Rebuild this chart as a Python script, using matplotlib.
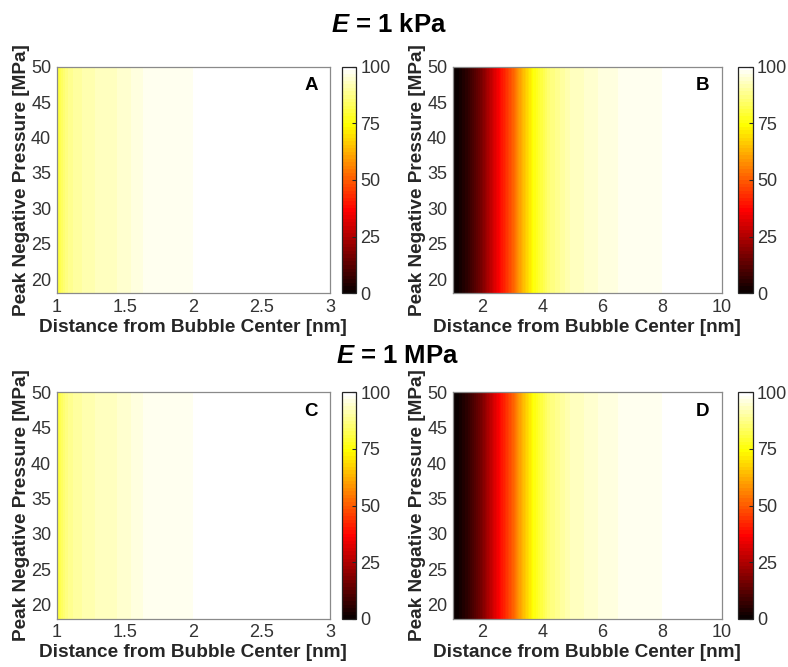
import numpy as np
import matplotlib
matplotlib.use("Agg")
import matplotlib.pyplot as plt
from matplotlib.colors import ListedColormap, Normalize
from matplotlib.cm import ScalarMappable

plt.rcParams['font.family'] = ['Liberation Sans', 'DejaVu Sans']
plt.rcParams['mathtext.fontset'] = 'custom'
plt.rcParams['mathtext.it'] = 'Liberation Sans:italic:bold'
plt.rcParams['mathtext.rm'] = 'Liberation Sans:bold'

# ---- data ----
pressures = [18, 20, 25, 30, 35, 40, 45, 50]  # MPa

dist_A = [1.0, 1.05, 1.1, 1.2, 1.3, 1.47, 1.63, 2.0, 2.5, 3.0]
pct_A = [78.0, 85.0, 88.5, 91.0, 92.5, 94.0, 96.9, 98.45, 99.5, 99.9]

dist_B = [1.0, 1.25, 1.5, 2.0, 2.58, 3.0, 3.3, 3.7, 4.25, 4.92, 5.42, 5.86, 6.53, 8.0, 10.0]
pct_B = [0.0, 2.0, 6.0, 18.0, 37.5, 50.0, 62.0, 75.0, 86.0, 92.2, 93.8, 95.35, 96.9, 98.45, 99.5]

dist_C = [1.0, 1.05, 1.1, 1.2, 1.3, 1.47, 1.63, 2.0, 2.5, 3.0]
pct_C = [78.0, 85.0, 88.5, 91.0, 92.5, 94.0, 96.9, 98.45, 99.5, 99.9]

dist_D = [1.0, 1.25, 1.5, 2.0, 2.58, 3.0, 3.3, 3.7, 4.25, 4.92, 5.42, 5.86, 6.53, 8.0, 10.0]
pct_D = [0.0, 2.0, 6.0, 18.0, 37.5, 50.0, 62.0, 75.0, 86.0, 92.2, 93.8, 95.35, 96.9, 98.45, 99.5]

panel_letters = ['A', 'B', 'C', 'D']
titles = ['$\\mathit{E}$ = 1 kPa', '$\\mathit{E}$ = 1 MPa']
cbar_ticks = [0, 25, 50, 75, 100]

# MATLAB-style hot(64) colormap
n = 64
n1 = int(3 * n / 8)
r = np.concatenate([np.arange(1, n1 + 1) / n1, np.ones(n - n1)])
g = np.concatenate([np.zeros(n1), np.arange(1, n1 + 1) / n1, np.ones(n - 2 * n1)])
b = np.concatenate([np.zeros(2 * n1), np.arange(1, n - 2 * n1 + 1) / (n - 2 * n1)])
hot64 = ListedColormap(np.column_stack([r, g, b]))
norm = Normalize(0, 100)
levels = np.linspace(0, 100, n + 1)

W, H = 788, 667
fig = plt.figure(figsize=(W / 100, H / 100), dpi=100)

def fx(px):
    return px / W

def fy(py):
    return 1 - py / H

TXT = '#262626'
rows = [(66.7, 293.3), (392.3, 618.7)]
cols = [(56.7, 330.0, 341.7, 356.0), (452.7, 721.7, 738.3, 752.7)]
data = [(dist_A, pct_A, (1, 3), [1, 1.5, 2, 2.5, 3], ['1', '1.5', '2', '2.5', '3']),
        (dist_B, pct_B, (1, 10), [2, 4, 6, 8, 10], ['2', '4', '6', '8', '10']),
        (dist_C, pct_C, (1, 3), [1, 1.5, 2, 2.5, 3], ['1', '1.5', '2', '2.5', '3']),
        (dist_D, pct_D, (1, 10), [2, 4, 6, 8, 10], ['2', '4', '6', '8', '10'])]

k = 0
for ri, (top, bot) in enumerate(rows):
    for ci, (l, rgt, cl, cr) in enumerate(cols):
        dist, pct, xl, xt, xtl = data[k]
        ax = fig.add_axes([fx(l), fy(bot), fx(rgt - l), (bot - top) / H])
        X, Y = np.meshgrid(dist, pressures)
        Z = np.tile(np.array(pct), (len(pressures), 1))
        ax.contourf(X, Y, Z, levels=levels, cmap=hot64, norm=norm, antialiased=False)
        ax.set_xlim(*xl)
        ax.set_ylim(18, 50)
        ax.set_xticks(xt)
        ax.set_xticklabels(xtl)
        ax.set_yticks([20, 25, 30, 35, 40, 45, 50])
        ax.tick_params(length=0, labelsize=13, labelcolor='#333333', pad=4)
        for s in ax.spines.values():
            s.set_color('#8a8a8a')
            s.set_linewidth(0.9)
        ax.set_xlabel('Distance from Bubble Center [nm]', fontsize=13.7,
                      fontweight='bold', color=TXT, labelpad=2)
        ax.set_ylabel('Peak Negative Pressure [MPa]', fontsize=13.7,
                      fontweight='bold', color=TXT, labelpad=1)
        ax.text(0.93, 0.915, panel_letters[k], transform=ax.transAxes,
                fontsize=13.5, fontweight='bold', color='black',
                ha='center', va='center')

        cax = fig.add_axes([fx(cl), fy(bot), fx(cr - cl), (bot - top) / H])
        sm = ScalarMappable(norm=norm, cmap=hot64)
        cb = fig.colorbar(sm, cax=cax, ticks=cbar_ticks)
        cb.outline.set_edgecolor('#262626')
        cb.outline.set_linewidth(0.9)
        cax.tick_params(direction='in', length=3, width=0.8, color='#262626',
                        labelsize=13, labelcolor='#333333', pad=3)
        k += 1

fig.text(0.494, fy(25), titles[0], fontsize=18.5, fontweight='bold',
         ha='center', va='center', color='black')
fig.text(0.504, fy(356), titles[1], fontsize=18.5, fontweight='bold',
         ha='center', va='center', color='black')

fig.savefig('out.png', dpi=100)
